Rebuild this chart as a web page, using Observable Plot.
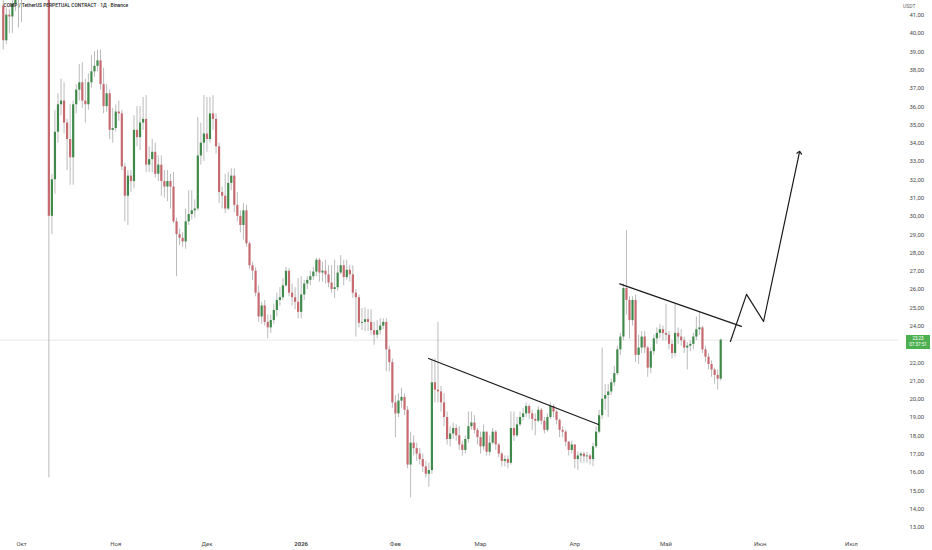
<!DOCTYPE html>
<html>
<head>
<meta charset="utf-8">
<script src="https://cdn.jsdelivr.net/npm/d3@7"></script>
<script src="https://cdn.jsdelivr.net/npm/@observablehq/plot@0.6"></script>
<style>
  body { margin: 0; background: #fff; }
  #chart { position: relative; width: 932px; height: 550px; font-family: Roboto, sans-serif; }
  .tag { position: absolute; left: 906px; width: 24px; height: 14px; background: #4caf50; color: #fff;
         font-size: 4.6px; text-align: center; box-sizing: border-box; padding-top: 1px; }
  .tag div { height: 6px; line-height: 6px; }
</style>
</head>
<body>
<div id="chart"></div>
<script>
// daily candles, first one 2025-09-25 (open of first candle, then each open = previous close)
const firstDay = [2025, 8, 25]
const firstOpen = 41.5

const closes = [
  39.6, 41.0, 40.9, 41.6, 42.0, 42.6, 43.2, 43.9, 44.6, 45.3,
  44.7, 44.1, 43.5, 43.9, 44.2, 30.0, 32.0, 34.6, 36.1, 36.3,
  35.1, 34.2, 33.2, 36.1, 36.9, 37.3, 36.3, 36.1, 37.3, 37.9,
  38.2, 38.5, 37.2, 36.0, 36.7, 34.7, 34.8, 35.7, 35.6, 32.7,
  31.1, 32.2, 31.9, 34.7, 34.3, 35.1, 35.3, 32.8, 33.1, 33.5,
  32.3, 32.8, 31.9, 31.6, 31.9, 31.6, 29.7, 29.0, 28.8, 28.6,
  29.7, 30.1, 30.3, 30.4, 33.3, 34.0, 34.5, 34.2, 35.6, 35.3,
  33.8, 31.3, 31.1, 30.4, 31.8, 32.2, 30.6, 30.0, 29.5, 30.3,
  28.5, 27.3, 27.0, 25.8, 24.5, 25.1, 24.2, 23.9, 24.3, 24.85,
  25.4, 25.55, 26.2, 27.0, 25.8, 25.55, 25.3, 24.75, 25.7, 26.3,
  26.5, 26.7, 26.95, 27.6, 26.9, 27.0, 26.8, 26.35, 26.0, 26.1,
  26.9, 27.3, 26.65, 27.05, 26.8, 25.8, 25.55, 24.15, 24.2, 24.35,
  24.2, 23.75, 23.5, 23.75, 24.0, 24.2, 22.7, 22.0, 19.8, 19.2,
  19.9, 20.1, 19.4, 16.4, 17.6, 17.3, 17.0, 16.7, 16.3, 15.9,
  16.1, 20.9, 20.5, 20.4, 19.8, 19.0, 17.8, 18.1, 18.4, 18.0,
  17.5, 17.2, 17.8, 18.5, 18.7, 18.3, 17.9, 17.4, 18.2, 17.1,
  17.6, 18.2, 17.5, 17.0, 16.6, 16.7, 16.5, 18.4, 18.0, 18.6,
  19.0, 19.2, 19.6, 19.2, 18.9, 18.8, 19.4, 18.8, 18.3, 19.0,
  19.6, 19.3, 18.85, 18.3, 18.2, 17.65, 17.2, 17.5, 16.7, 16.9,
  17.0, 16.85, 16.9, 16.7, 17.4, 18.2, 19.1, 20.0, 20.2, 20.4,
  20.9, 21.4, 22.7, 23.4, 26.05, 25.4, 24.3, 25.4, 22.4, 22.8,
  23.4, 22.8, 21.7, 22.6, 23.3, 23.6, 23.8, 23.6, 23.5, 23.0,
  22.5, 23.6, 23.4, 23.2, 22.8, 22.9, 23.0, 23.4, 23.8, 23.9,
  22.7, 22.3, 21.9, 21.6, 21.3, 21.1, 23.23
]

const highs = [
  42.0, 41.4, 41.3, 42.2, 42.6, 43.0, 43.8, 44.5, 45.1, 46.0,
  45.8, 45.0, 44.6, 44.4, 44.9, 44.8, 32.3, 35.8, 36.7, 37.5,
  37.3, 35.3, 36.1, 36.3, 37.2, 38.3, 38.4, 37.5, 37.8, 38.8,
  39.0, 39.1, 39.1, 38.1, 37.2, 36.9, 35.9, 36.1, 36.3, 35.8,
  32.9, 32.5, 32.5, 35.5, 36.0, 36.0, 36.5, 36.6, 33.8, 34.2,
  34.0, 33.3, 33.3, 32.5, 32.5, 32.3, 32.4, 29.9, 29.3, 29.1,
  30.4, 31.4, 31.4, 30.9, 35.4, 35.1, 36.6, 36.5, 36.5, 36.6,
  35.6, 34.0, 31.6, 32.3, 32.4, 32.6, 32.6, 31.3, 30.3, 30.7,
  30.6, 28.6, 27.5, 27.2, 26.2, 25.3, 25.4, 24.6, 24.6, 25.2,
  25.8, 26.1, 26.6, 27.2, 27.15, 26.3, 26.1, 26.6, 26.7, 26.5,
  26.7, 27.0, 27.2, 27.7, 27.7, 27.5, 27.6, 27.3, 27.3, 27.6,
  27.3, 27.85, 27.6, 27.6, 27.3, 27.3, 26.0, 25.7, 24.96, 25.0,
  24.9, 24.9, 24.2, 24.3, 24.4, 24.4, 24.4, 22.9, 22.2, 20.2,
  20.3, 20.6, 20.3, 19.6, 18.2, 18.0, 17.6, 17.3, 17.0, 16.6,
  16.5, 22.2, 22.2, 24.2, 20.7, 20.3, 19.3, 18.5, 18.7, 18.6,
  18.5, 17.7, 18.0, 19.3, 19.3, 19.1, 18.4, 18.2, 18.6, 18.2,
  18.0, 18.4, 18.3, 17.6, 17.1, 16.9, 16.9, 19.3, 19.3, 19.0,
  19.3, 19.5, 19.8, 19.7, 19.4, 19.2, 19.6, 19.5, 19.0, 19.2,
  19.8, 19.7, 19.4, 18.9, 18.5, 18.3, 17.7, 17.7, 17.5, 17.1,
  17.1, 17.1, 17.1, 17.0, 17.6, 18.5, 19.4, 22.8, 20.8, 20.8,
  21.1, 21.8, 22.9, 23.6, 26.3, 29.2, 25.6, 25.6, 25.7, 23.5,
  23.7, 23.7, 22.9, 22.8, 23.5, 23.9, 24.1, 24.0, 25.2, 23.7,
  23.2, 25.2, 23.9, 23.8, 23.4, 23.1, 23.2, 23.6, 24.5, 24.8,
  24.0, 22.9, 22.5, 22.1, 21.7, 21.6, 23.3
]

const lows = [
  39.1, 39.4, 40.0, 40.0, 41.2, 40.3, 40.6, 42.6, 43.2, 44.0,
  43.9, 43.4, 42.8, 42.9, 43.3, 15.7, 29.0, 31.2, 34.0, 35.5,
  34.5, 32.5, 31.7, 31.7, 35.6, 36.3, 35.9, 35.1, 35.8, 37.0,
  37.6, 37.9, 36.9, 35.6, 35.7, 34.2, 34.0, 34.6, 35.2, 32.5,
  29.7, 29.5, 31.3, 31.5, 33.8, 33.6, 34.7, 32.4, 32.4, 32.4,
  32.1, 31.9, 31.1, 31.0, 30.8, 30.4, 29.6, 26.7, 28.4, 28.3,
  28.2, 29.5, 29.8, 29.9, 30.3, 32.8, 33.0, 33.5, 34.0, 34.7,
  33.4, 30.7, 30.4, 30.15, 30.3, 31.4, 30.2, 29.7, 29.1, 28.7,
  28.3, 27.1, 26.5, 25.6, 24.2, 24.1, 24.0, 23.3, 23.6, 24.1,
  24.5, 25.1, 25.4, 26.1, 25.6, 25.1, 24.9, 24.4, 24.4, 25.4,
  26.0, 26.2, 26.5, 26.7, 26.4, 26.4, 26.3, 26.1, 25.8, 25.5,
  25.9, 26.8, 26.2, 26.5, 26.4, 25.5, 23.4, 23.9, 23.76, 23.7,
  23.7, 23.5, 22.95, 23.3, 23.5, 23.8, 21.5, 21.5, 19.5, 17.9,
  19.0, 19.5, 19.1, 16.2, 14.6, 16.9, 16.6, 16.4, 16.0, 15.7,
  15.2, 15.9, 19.8, 19.8, 19.3, 18.5, 17.5, 17.4, 17.8, 17.7,
  17.2, 16.9, 17.0, 17.6, 18.3, 18.1, 17.5, 17.0, 17.2, 16.9,
  16.9, 17.5, 17.2, 16.8, 16.3, 16.3, 16.2, 16.4, 17.7, 17.9,
  18.5, 18.8, 19.0, 18.9, 18.3, 18.0, 18.7, 18.6, 18.1, 18.2,
  18.9, 19.0, 18.6, 17.9, 17.9, 17.4, 16.9, 17.0, 16.2, 16.1,
  16.5, 16.5, 16.5, 16.4, 16.3, 17.3, 18.1, 18.9, 19.4, 19.0,
  20.2, 20.7, 21.3, 22.4, 23.2, 24.6, 23.3, 24.0, 22.0, 21.9,
  22.5, 22.5, 21.2, 21.4, 22.4, 23.0, 23.3, 23.2, 23.2, 22.7,
  22.2, 22.3, 23.0, 22.9, 22.5, 21.6, 22.6, 22.7, 23.2, 23.5,
  22.5, 22.0, 21.6, 21.2, 20.8, 20.5, 21.0
]

// hand-drawn lines on the chart
const trendFeb = [
  {date: "2026-02-11T21:36Z", price: 22.23},
  {date: "2026-04-08T19:12Z", price: 18.62}
]
const trendApr = [
  {date: "2026-04-15T19:12Z", price: 26.31},
  {date: "2026-05-25T19:12Z", price: 23.98}
]
const arrowPath = [
  {date: "2026-05-22T04:48Z", price: 23.16},
  {date: "2026-05-27T12:00Z", price: 25.73},
  {date: "2026-06-02T02:24Z", price: 24.25},
  {date: "2026-06-13T21:36Z", price: 33.49}
]

// 23,00 sits under the last-price tag, so it is not labelled
const yTicks = [13, 14, 15, 16, 17, 18, 19, 20, 21, 22, 24, 25, 26, 27,
  28, 29, 30, 31, 32, 33, 34, 35, 36, 37, 38, 39, 40, 41]
const monthTicks = ["2025-10-01", "2025-11-01", "2025-12-01", "2026-02-01",
  "2026-03-01", "2026-04-01", "2026-05-01", "2026-06-01", "2026-07-01"]
const monthLabels = ["Окт", "Ноя", "Дек", "Фев", "Мар", "Апр", "Май", "Июн", "Июл"]
const yearTicks = ["2026-01-01"]
const yearLabels = ["2026"]

const title = "COMP / TetherUS PERPETUAL CONTRACT · 1Д · Binance"
const countdown = "07:37:51"
const green = "#3f8a4b"
const red = "#c66a70"

const candles = closes.map((c, i) => ({
  date: new Date(Date.UTC(firstDay[0], firstDay[1], firstDay[2] + i)),
  open: i ? closes[i - 1] : firstOpen,
  high: highs[i],
  low: lows[i],
  close: c
}))
const last = closes[closes.length - 1]
const toDate = arr => arr.map(d => ({date: new Date(d.date), price: d.price}))

const monthMap = new Map(monthTicks.map((d, i) => [+new Date(d), monthLabels[i]]))
const yearMap = new Map(yearTicks.map((d, i) => [+new Date(d), yearLabels[i]]))

const chart = Plot.plot({
  width: 932,
  height: 550,
  marginTop: 0,
  marginBottom: 15,
  marginLeft: 0,
  marginRight: 34,
  style: {fontFamily: "Roboto, sans-serif", fontSize: "6px", color: "#4a4a4a", background: "#fff", overflow: "visible"},
  x: {type: "utc", domain: [new Date("2025-09-24T02:11Z"), new Date("2026-07-16T11:45Z")]},
  y: {domain: [12.55, 41.8]},
  marks: [
    Plot.ruleY([last], {stroke: "#dedede", strokeWidth: 0.7}),
    Plot.ruleX(candles, {x: "date", y1: "low", y2: "high", stroke: "#a9a9a9", strokeWidth: 0.8, clip: true}),
    Plot.ruleX(candles, {
      x: "date", y1: "open", y2: "close",
      stroke: d => d.close >= d.open ? green : red,
      strokeWidth: 2.2, clip: true
    }),
    Plot.line(toDate(trendFeb), {x: "date", y: "price", stroke: "#1c1c1c", strokeWidth: 1.2}),
    Plot.line(toDate(trendApr), {x: "date", y: "price", stroke: "#1c1c1c", strokeWidth: 1.2}),
    Plot.line(toDate(arrowPath), {x: "date", y: "price", stroke: "#1c1c1c", strokeWidth: 1.2, markerEnd: "arrow"}),
    Plot.axisY(yTicks, {
      anchor: "right", tickSize: 0, tickPadding: 11, label: null,
      tickFormat: d => d.toFixed(2).replace(".", ",")
    }),
    Plot.axisX(monthTicks.map(d => new Date(d)), {
      anchor: "bottom", tickSize: 0, tickPadding: 6, label: null,
      tickFormat: d => monthMap.get(+d)
    }),
    Plot.axisX(yearTicks.map(d => new Date(d)), {
      anchor: "bottom", tickSize: 0, tickPadding: 6, label: null, fontWeight: "bold",
      tickFormat: d => yearMap.get(+d)
    }),
    Plot.text([title], {frameAnchor: "top-left", dx: 3, dy: 3, fontSize: 4.9, fontWeight: 500, fill: "#222", textAnchor: "start"}),
    Plot.text(["USDT"], {frameAnchor: "top-right", dx: 17, dy: 4, fontSize: 5, fill: "#666"})
  ]
})

const box = d3.select("#chart")
box.append(() => chart)

// last price tag on the right axis, placed with the y scale
const yPos = chart.scale("y").apply(last)
const tag = box.append("div").attr("class", "tag").style("top", (yPos - 5) + "px")
tag.append("div").text(last.toFixed(2).replace(".", ","))
tag.append("div").text(countdown)
</script>
</body>
</html>
